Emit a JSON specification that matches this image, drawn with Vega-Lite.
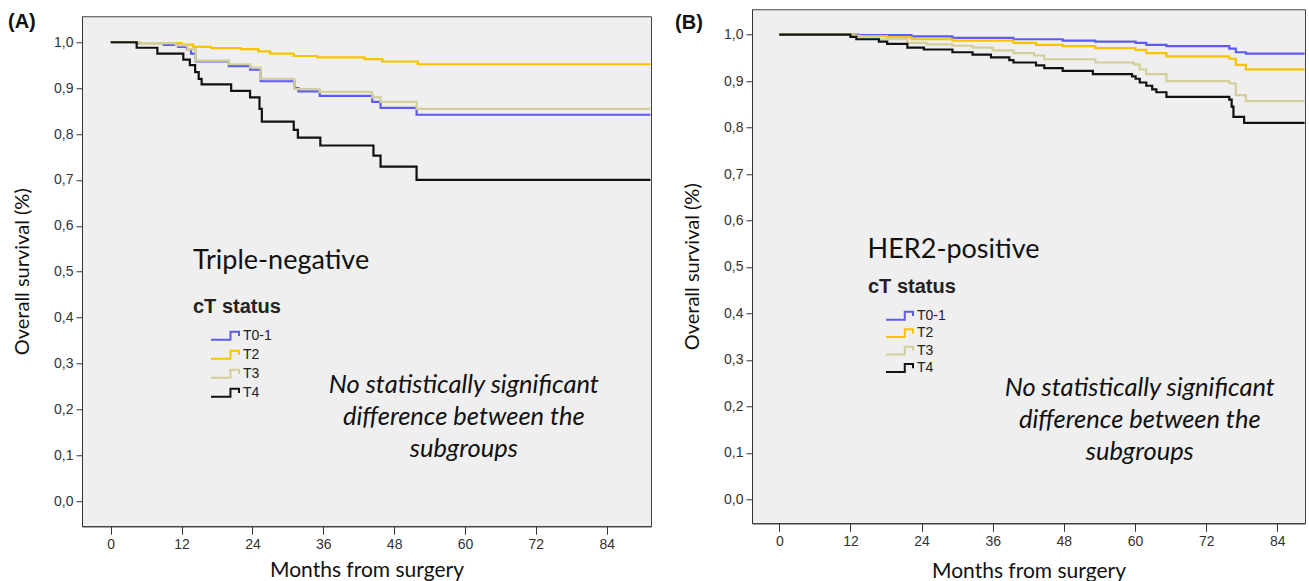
{
  "$schema": "https://vega.github.io/schema/vega-lite/v6.json",
  "background": "white",
  "padding": {"left": 7, "top": 7, "right": 0, "bottom": 0},
  "spacing": 18,
  "center": true,
  "config": {
    "view": {"stroke": "#444", "strokeWidth": 1, "fill": "#efefef"},
    "axis": {
      "grid": false,
      "domainColor": "#333",
      "tickColor": "#333",
      "labelColor": "#333",
      "titleColor": "#111",
      "labelFont": "Liberation Sans",
      "labelFontSize": 14,
      "titleFont": "Lato",
      "titleFontWeight": "normal",
      "titleFontSize": 20
    },
    "axisX": {"titleFontSize": 21},
    "text": {"font": "Lato", "color": "#111"}
  },
  "datasets": {
    "km": [
      {"panel": "A", "group": "T0-1", "month": 0, "surv": 1.0},
      {"panel": "A", "group": "T0-1", "month": 4.3, "surv": 0.998},
      {"panel": "A", "group": "T0-1", "month": 9, "surv": 0.994},
      {"panel": "A", "group": "T0-1", "month": 11.4, "surv": 0.99},
      {"panel": "A", "group": "T0-1", "month": 12.9, "surv": 0.985},
      {"panel": "A", "group": "T0-1", "month": 13.6, "surv": 0.975},
      {"panel": "A", "group": "T0-1", "month": 14.4, "surv": 0.958},
      {"panel": "A", "group": "T0-1", "month": 20.0, "surv": 0.948},
      {"panel": "A", "group": "T0-1", "month": 23.6, "surv": 0.94},
      {"panel": "A", "group": "T0-1", "month": 25.4, "surv": 0.915},
      {"panel": "A", "group": "T0-1", "month": 31.1, "surv": 0.9},
      {"panel": "A", "group": "T0-1", "month": 31.8, "surv": 0.893},
      {"panel": "A", "group": "T0-1", "month": 35.4, "surv": 0.883},
      {"panel": "A", "group": "T0-1", "month": 44.3, "surv": 0.87},
      {"panel": "A", "group": "T0-1", "month": 45.7, "surv": 0.857},
      {"panel": "A", "group": "T0-1", "month": 51.8, "surv": 0.842},
      {"panel": "A", "group": "T0-1", "month": 91.4, "surv": 0.842},

      {"panel": "A", "group": "T2", "month": 0, "surv": 1.0},
      {"panel": "A", "group": "T2", "month": 5, "surv": 0.998},
      {"panel": "A", "group": "T2", "month": 12, "surv": 0.995},
      {"panel": "A", "group": "T2", "month": 14, "surv": 0.99},
      {"panel": "A", "group": "T2", "month": 17, "surv": 0.987},
      {"panel": "A", "group": "T2", "month": 22, "surv": 0.985},
      {"panel": "A", "group": "T2", "month": 25, "surv": 0.98},
      {"panel": "A", "group": "T2", "month": 27, "surv": 0.975},
      {"panel": "A", "group": "T2", "month": 31, "surv": 0.97},
      {"panel": "A", "group": "T2", "month": 35, "surv": 0.967},
      {"panel": "A", "group": "T2", "month": 43, "surv": 0.963},
      {"panel": "A", "group": "T2", "month": 46, "surv": 0.958},
      {"panel": "A", "group": "T2", "month": 52, "surv": 0.952},
      {"panel": "A", "group": "T2", "month": 91.4, "surv": 0.952},

      {"panel": "A", "group": "T3", "month": 0, "surv": 1.0},
      {"panel": "A", "group": "T3", "month": 5, "surv": 0.998},
      {"panel": "A", "group": "T3", "month": 11, "surv": 0.993},
      {"panel": "A", "group": "T3", "month": 13, "surv": 0.985},
      {"panel": "A", "group": "T3", "month": 14.4, "surv": 0.96},
      {"panel": "A", "group": "T3", "month": 20.0, "surv": 0.952},
      {"panel": "A", "group": "T3", "month": 23.6, "surv": 0.945},
      {"panel": "A", "group": "T3", "month": 25.4, "surv": 0.92},
      {"panel": "A", "group": "T3", "month": 31.1, "surv": 0.898},
      {"panel": "A", "group": "T3", "month": 35.4, "surv": 0.892},
      {"panel": "A", "group": "T3", "month": 44.3, "surv": 0.88},
      {"panel": "A", "group": "T3", "month": 45.7, "surv": 0.87},
      {"panel": "A", "group": "T3", "month": 51.8, "surv": 0.855},
      {"panel": "A", "group": "T3", "month": 91.4, "surv": 0.855},

      {"panel": "A", "group": "T4", "month": 0, "surv": 1.0},
      {"panel": "A", "group": "T4", "month": 4.4, "surv": 0.988},
      {"panel": "A", "group": "T4", "month": 7.9, "surv": 0.975},
      {"panel": "A", "group": "T4", "month": 12.3, "surv": 0.962},
      {"panel": "A", "group": "T4", "month": 13.4, "surv": 0.95},
      {"panel": "A", "group": "T4", "month": 14.3, "surv": 0.935},
      {"panel": "A", "group": "T4", "month": 14.9, "surv": 0.92},
      {"panel": "A", "group": "T4", "month": 15.4, "surv": 0.908},
      {"panel": "A", "group": "T4", "month": 20.4, "surv": 0.894},
      {"panel": "A", "group": "T4", "month": 23.6, "surv": 0.88},
      {"panel": "A", "group": "T4", "month": 25.2, "surv": 0.855},
      {"panel": "A", "group": "T4", "month": 25.6, "surv": 0.827},
      {"panel": "A", "group": "T4", "month": 31.0, "surv": 0.809},
      {"panel": "A", "group": "T4", "month": 31.7, "surv": 0.792},
      {"panel": "A", "group": "T4", "month": 35.5, "surv": 0.775},
      {"panel": "A", "group": "T4", "month": 44.5, "surv": 0.753},
      {"panel": "A", "group": "T4", "month": 45.7, "surv": 0.729},
      {"panel": "A", "group": "T4", "month": 51.8, "surv": 0.7},
      {"panel": "A", "group": "T4", "month": 91.4, "surv": 0.7},

      {"panel": "B", "group": "T0-1", "month": 0, "surv": 1.0},
      {"panel": "B", "group": "T0-1", "month": 13.4, "surv": 0.999},
      {"panel": "B", "group": "T0-1", "month": 22.3, "surv": 0.996},
      {"panel": "B", "group": "T0-1", "month": 29.2, "surv": 0.993},
      {"panel": "B", "group": "T0-1", "month": 39.5, "surv": 0.99},
      {"panel": "B", "group": "T0-1", "month": 47.8, "surv": 0.987},
      {"panel": "B", "group": "T0-1", "month": 53.3, "surv": 0.985},
      {"panel": "B", "group": "T0-1", "month": 60.1, "surv": 0.982},
      {"panel": "B", "group": "T0-1", "month": 61.9, "surv": 0.978},
      {"panel": "B", "group": "T0-1", "month": 65.3, "surv": 0.975},
      {"panel": "B", "group": "T0-1", "month": 75.9, "surv": 0.97},
      {"panel": "B", "group": "T0-1", "month": 77, "surv": 0.962},
      {"panel": "B", "group": "T0-1", "month": 78.7, "surv": 0.959},
      {"panel": "B", "group": "T0-1", "month": 88.6, "surv": 0.959},

      {"panel": "B", "group": "T2", "month": 0, "surv": 1.0},
      {"panel": "B", "group": "T2", "month": 12.7, "surv": 0.997},
      {"panel": "B", "group": "T2", "month": 18.2, "surv": 0.994},
      {"panel": "B", "group": "T2", "month": 22.3, "surv": 0.99},
      {"panel": "B", "group": "T2", "month": 29.2, "surv": 0.987},
      {"panel": "B", "group": "T2", "month": 39.5, "surv": 0.982},
      {"panel": "B", "group": "T2", "month": 43.3, "surv": 0.978},
      {"panel": "B", "group": "T2", "month": 47.8, "surv": 0.975},
      {"panel": "B", "group": "T2", "month": 53.3, "surv": 0.971},
      {"panel": "B", "group": "T2", "month": 60.1, "surv": 0.967},
      {"panel": "B", "group": "T2", "month": 61.9, "surv": 0.96},
      {"panel": "B", "group": "T2", "month": 65.3, "surv": 0.953},
      {"panel": "B", "group": "T2", "month": 75.9, "surv": 0.948},
      {"panel": "B", "group": "T2", "month": 77, "surv": 0.935},
      {"panel": "B", "group": "T2", "month": 78.7, "surv": 0.925},
      {"panel": "B", "group": "T2", "month": 88.6, "surv": 0.925},

      {"panel": "B", "group": "T3", "month": 0, "surv": 1.0},
      {"panel": "B", "group": "T3", "month": 12.2, "surv": 0.998},
      {"panel": "B", "group": "T3", "month": 13.5, "surv": 0.994},
      {"panel": "B", "group": "T3", "month": 16.8, "surv": 0.99},
      {"panel": "B", "group": "T3", "month": 21.6, "surv": 0.982},
      {"panel": "B", "group": "T3", "month": 24.9, "surv": 0.979},
      {"panel": "B", "group": "T3", "month": 29.2, "surv": 0.976},
      {"panel": "B", "group": "T3", "month": 32.6, "surv": 0.972},
      {"panel": "B", "group": "T3", "month": 36, "surv": 0.966},
      {"panel": "B", "group": "T3", "month": 39.5, "surv": 0.96},
      {"panel": "B", "group": "T3", "month": 43, "surv": 0.955},
      {"panel": "B", "group": "T3", "month": 44.7, "surv": 0.947},
      {"panel": "B", "group": "T3", "month": 53.3, "surv": 0.94},
      {"panel": "B", "group": "T3", "month": 59.8, "surv": 0.936},
      {"panel": "B", "group": "T3", "month": 60.8, "surv": 0.925},
      {"panel": "B", "group": "T3", "month": 61.9, "surv": 0.915},
      {"panel": "B", "group": "T3", "month": 65.3, "surv": 0.9},
      {"panel": "B", "group": "T3", "month": 75.9, "surv": 0.895},
      {"panel": "B", "group": "T3", "month": 77, "surv": 0.87},
      {"panel": "B", "group": "T3", "month": 78.7, "surv": 0.857},
      {"panel": "B", "group": "T3", "month": 88.6, "surv": 0.857},

      {"panel": "B", "group": "T4", "month": 0, "surv": 1.0},
      {"panel": "B", "group": "T4", "month": 12.0, "surv": 0.995},
      {"panel": "B", "group": "T4", "month": 13.0, "surv": 0.99},
      {"panel": "B", "group": "T4", "month": 16.8, "surv": 0.985},
      {"panel": "B", "group": "T4", "month": 18.2, "surv": 0.98},
      {"panel": "B", "group": "T4", "month": 21.6, "surv": 0.972},
      {"panel": "B", "group": "T4", "month": 24.4, "surv": 0.968},
      {"panel": "B", "group": "T4", "month": 29.2, "surv": 0.962},
      {"panel": "B", "group": "T4", "month": 32.6, "surv": 0.957},
      {"panel": "B", "group": "T4", "month": 35.7, "surv": 0.951},
      {"panel": "B", "group": "T4", "month": 38.8, "surv": 0.945},
      {"panel": "B", "group": "T4", "month": 39.5, "surv": 0.94},
      {"panel": "B", "group": "T4", "month": 43.3, "surv": 0.934},
      {"panel": "B", "group": "T4", "month": 44.7, "surv": 0.928},
      {"panel": "B", "group": "T4", "month": 47.8, "surv": 0.922},
      {"panel": "B", "group": "T4", "month": 52.9, "surv": 0.915},
      {"panel": "B", "group": "T4", "month": 59.5, "surv": 0.91},
      {"panel": "B", "group": "T4", "month": 60.1, "surv": 0.905},
      {"panel": "B", "group": "T4", "month": 60.8, "surv": 0.897},
      {"panel": "B", "group": "T4", "month": 61.9, "surv": 0.89},
      {"panel": "B", "group": "T4", "month": 62.9, "surv": 0.882},
      {"panel": "B", "group": "T4", "month": 63.6, "surv": 0.876},
      {"panel": "B", "group": "T4", "month": 65.3, "surv": 0.866},
      {"panel": "B", "group": "T4", "month": 75.9, "surv": 0.86},
      {"panel": "B", "group": "T4", "month": 76.3, "surv": 0.845},
      {"panel": "B", "group": "T4", "month": 76.6, "surv": 0.823},
      {"panel": "B", "group": "T4", "month": 78.4, "surv": 0.81},
      {"panel": "B", "group": "T4", "month": 88.6, "surv": 0.81}
    ],
    "one": [{}]
  },
  "resolve": {"scale": {"color": "independent"}, "legend": {"color": "independent"}},
  "hconcat": [
    {
      "width": 569,
      "height": 510,
      "layer": [
        {
          "data": {"name": "km"},
          "transform": [{"filter": "datum.panel === 'A'"}],
          "mark": {"type": "line", "interpolate": "step-after", "strokeWidth": 2.2},
          "encoding": {
            "x": {
              "field": "month", "type": "quantitative",
              "scale": {"domain": [-4.86, 91.5], "nice": false, "zero": false},
              "axis": {"values": [0, 12, 24, 36, 48, 60, 72, 84], "format": "d", "title": "Months from surgery", "tickSize": 8, "labelPadding": 3, "titlePadding": 8}
            },
            "y": {
              "field": "surv", "type": "quantitative",
              "scale": {"domain": [-0.0545, 1.0566], "nice": false, "zero": false},
              "axis": {"values": [0, 0.1, 0.2, 0.3, 0.4, 0.5, 0.6, 0.7, 0.8, 0.9, 1.0], "labelExpr": "replace(format(datum.value, '.1f'), '.', ',')", "title": "Overall survival (%)", "tickSize": 6, "labelPadding": 3, "titlePadding": 21}
            },
            "color": {
              "field": "group", "type": "nominal",
              "scale": {"domain": ["T0-1", "T2", "T3", "T4"], "range": ["#5c5cf5", "#f8c400", "#d2cf98", "#111111"]},
              "legend": {
                "orient": "none", "legendX": 111, "legendY": 281, "padding": 0,
                "title": "cT status", "titleFont": "Liberation Sans", "titleFontSize": 20, "titleFontWeight": "bold", "titleColor": "#222", "titlePadding": 9,
                "labelFont": "Liberation Sans", "labelFontSize": 14, "labelColor": "#222", "labelOffset": 3,
                "symbolType": "M-1,0.29H0.39V-0.29H1V0.02", "symbolSize": 784, "symbolStrokeWidth": 2, "symbolFillColor": "transparent", "symbolOffset": 17,
                "clipHeight": 19, "rowPadding": 0
              }
            }
          }
        },
        {
          "data": {"name": "one"},
          "mark": {"type": "rule", "strokeOpacity": 0},
          "encoding": {
            "x": {"datum": 0, "type": "quantitative"},
            "y": {"datum": 1.0566, "type": "quantitative"},
            "y2": {"datum": 1.074}
          }
        },
        {
          "data": {"name": "one"},
          "mark": {"type": "text", "font": "Liberation Sans", "fontWeight": "bold", "fontSize": 20, "align": "left", "baseline": "middle", "color": "#111"},
          "encoding": {
            "x": {"datum": -17.39, "type": "quantitative"},
            "y": {"datum": 1.0436, "type": "quantitative"},
            "text": {"value": "(A)"}
          }
        },
        {
          "data": {"name": "one"},
          "mark": {"type": "text", "font": "Lato", "fontSize": 27, "align": "left", "baseline": "middle", "color": "#111"},
          "encoding": {
            "x": {"datum": 13.94, "type": "quantitative"},
            "y": {"datum": 0.523, "type": "quantitative"},
            "text": {"value": "Triple-negative"}
          }
        },
        {
          "data": {"name": "one"},
          "mark": {"type": "text", "font": "Lato", "fontStyle": "italic", "fontSize": 25.5, "lineHeight": 32, "align": "center", "baseline": "middle", "color": "#111"},
          "encoding": {
            "x": {"datum": 59.8, "type": "quantitative"},
            "y": {"datum": 0.2527, "type": "quantitative"},
            "text": {"value": ["No statistically significant", "difference between the", "subgroups"]}
          }
        }
      ]
    },
    {
      "width": 553,
      "height": 514,
      "layer": [
        {
          "data": {"name": "km"},
          "transform": [{"filter": "datum.panel === 'B'"}],
          "mark": {"type": "line", "interpolate": "step-after", "strokeWidth": 2.2},
          "encoding": {
            "x": {
              "field": "month", "type": "quantitative",
              "scale": {"domain": [-4.6, 88.67], "nice": false, "zero": false},
              "axis": {"values": [0, 12, 24, 36, 48, 60, 72, 84], "format": "d", "title": "Months from surgery", "tickSize": 8, "labelPadding": 3, "titlePadding": 12}
            },
            "y": {
              "field": "surv", "type": "quantitative",
              "scale": {"domain": [-0.0514, 1.0545], "nice": false, "zero": false},
              "axis": {"values": [0, 0.1, 0.2, 0.3, 0.4, 0.5, 0.6, 0.7, 0.8, 0.9, 1.0], "labelExpr": "replace(format(datum.value, '.1f'), '.', ',')", "title": "Overall survival (%)", "tickSize": 6, "labelPadding": 3, "titlePadding": 21}
            },
            "color": {
              "field": "group", "type": "nominal",
              "scale": {"domain": ["T0-1", "T2", "T3", "T4"], "range": ["#5c5cf5", "#f8c400", "#d2cf98", "#111111"]},
              "legend": {
                "orient": "none", "legendX": 116, "legendY": 268, "padding": 0,
                "title": "cT status", "titleFont": "Liberation Sans", "titleFontSize": 20, "titleFontWeight": "bold", "titleColor": "#222", "titlePadding": 10,
                "labelFont": "Liberation Sans", "labelFontSize": 14, "labelColor": "#222", "labelOffset": 3,
                "symbolType": "M-1,0.29H0.39V-0.29H1V0.02", "symbolSize": 729, "symbolStrokeWidth": 2, "symbolFillColor": "transparent", "symbolOffset": 17,
                "clipHeight": 17, "rowPadding": 0.4
              }
            }
          }
        },
        {
          "data": {"name": "one"},
          "mark": {"type": "rule", "strokeOpacity": 0},
          "encoding": {
            "x": {"datum": 0, "type": "quantitative"},
            "y": {"datum": -0.0514, "type": "quantitative"},
            "y2": {"datum": -0.189}
          }
        },
        {
          "data": {"name": "one"},
          "mark": {"type": "text", "font": "Liberation Sans", "fontWeight": "bold", "fontSize": 20, "align": "left", "baseline": "middle", "color": "#111"},
          "encoding": {
            "x": {"datum": -17.58, "type": "quantitative"},
            "y": {"datum": 1.0244, "type": "quantitative"},
            "text": {"value": "(B)"}
          }
        },
        {
          "data": {"name": "one"},
          "mark": {"type": "text", "font": "Lato", "fontSize": 27, "align": "left", "baseline": "middle", "color": "#111"},
          "encoding": {
            "x": {"datum": 14.9, "type": "quantitative"},
            "y": {"datum": 0.5356, "type": "quantitative"},
            "text": {"value": "HER2-positive"}
          }
        },
        {
          "data": {"name": "one"},
          "mark": {"type": "text", "font": "Lato", "fontStyle": "italic", "fontSize": 25.5, "lineHeight": 32, "align": "center", "baseline": "middle", "color": "#111"},
          "encoding": {
            "x": {"datum": 60.8, "type": "quantitative"},
            "y": {"datum": 0.2407, "type": "quantitative"},
            "text": {"value": ["No statistically significant", "difference between the", "subgroups"]}
          }
        }
      ]
    }
  ]
}
